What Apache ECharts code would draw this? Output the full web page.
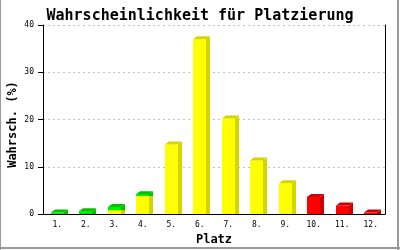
<!DOCTYPE html>
<html>
<head>
<meta charset="utf-8">
<script src="https://cdn.jsdelivr.net/npm/echarts@6/dist/echarts.min.js"></script>
<style>html,body{margin:0;padding:0;background:#fff}#c{width:400px;height:250px}</style>
</head>
<body>
<div id="c"></div>
<script>
const categories = ['1.','2.','3.','4.','5.','6.','7.','8.','9.','10.','11.','12.'];
const yellowVals = [0, 0, 0.8, 3.8, 14.7, 37.0, 20.2, 11.3, 6.5, 0, 0, 0];
const greenVals  = [0.3, 0.6, 0.7, 0.4, 0, 0, 0, 0, 0, 0, 0, 0];
const redVals    = [0, 0, 0, 0, 0, 0, 0, 0, 0, 3.6, 1.8, 0.3];
const yTicks = [0, 10, 20, 30, 40];

function stackData(vals, base) {
  return vals.map((v, i) => [i, base[i], base[i] + v]);
}
const base0 = categories.map(() => 0);
const yellowData = stackData(yellowVals, base0);
const base1 = yellowData.map(d => d[2]);
const greenData = stackData(greenVals, base1);
const base2 = greenData.map(d => d[2]);
const redData = stackData(redVals, base2);

function make3D(front, dark) {
  return function (params, api) {
    const i = api.value(0), b = api.value(1), t = api.value(2);
    if (!(t - b > 0)) return;
    const p0 = api.coord([i, b]);
    const p1 = api.coord([i, t]);
    const band = api.size([1, 0])[0];
    const w = Math.round(band * 0.46);
    const dx = 4, dy = 3;
    const x0 = Math.round(p0[0] - w / 2), x1 = x0 + w;
    const yb = p0[1], yt = p1[1];
    return {
      type: 'group',
      children: [
        { type: 'rect', shape: { x: x0, y: yt, width: w, height: yb - yt }, style: { fill: front } },
        { type: 'polygon', shape: { points: [[x1, yt], [x1 + dx, yt - dy], [x1 + dx, yb], [x1, yb]] }, style: { fill: dark } },
        { type: 'polygon', shape: { points: [[x0, yt], [x0 + dx, yt - dy], [x1 + dx, yt - dy], [x1, yt]] }, style: { fill: dark } }
      ]
    };
  };
}

const chart = echarts.init(document.getElementById('c'), null, { renderer: 'canvas' });
const mono = 'DejaVu Sans Mono';
chart.setOption({
  animation: false,
  backgroundColor: '#fff',
  title: {
    text: 'Wahrscheinlichkeit für Platzierung',
    left: 'center', top: 4,
    textStyle: { fontFamily: mono, fontSize: 15, fontWeight: 'bold', color: '#000' }
  },
  grid: { left: 43, right: 15, top: 25, bottom: 36, containLabel: false, outerBoundsMode: 'none' },
  xAxis: {
    type: 'category', data: categories, boundaryGap: true,
    axisLine: { lineStyle: { color: '#000', width: 1 } },
    axisTick: { show: false },
    axisLabel: { fontFamily: mono, fontSize: 8, color: '#000', margin: 7 },
    name: 'Platz', nameLocation: 'middle', nameGap: 20, nameMoveOverlap: false,
    nameTextStyle: { fontFamily: mono, fontSize: 12, fontWeight: 'bold', color: '#000' }
  },
  yAxis: [{
    type: 'value', min: yTicks[0], max: yTicks[yTicks.length - 1], interval: 10,
    axisLine: { show: true, lineStyle: { color: '#000' } },
    axisTick: { show: true, length: 5, lineStyle: { color: '#000' } },
    axisLabel: { fontFamily: mono, fontSize: 8, color: '#000', margin: 9 },
    splitLine: { show: true, lineStyle: { color: '#c0c0c0', type: [2, 3] } },
    name: 'Wahrsch. (%)', nameLocation: 'middle', nameGap: 24, nameMoveOverlap: false,
    nameTextStyle: { fontFamily: mono, fontSize: 12, fontWeight: 'bold', color: '#000', padding: [0, 10, 0, 0] }
  }, {
    type: 'value', position: 'right', min: 0, max: 40, interval: 10,
    axisLine: { show: true, lineStyle: { color: '#000' } },
    axisTick: { show: false }, axisLabel: { show: false }, splitLine: { show: false }
  }],
  series: [
    { type: 'custom', renderItem: make3D('#ffff00', '#d4d400'), data: yellowData, encode: { x: 0, y: [1, 2] } },
    { type: 'custom', renderItem: make3D('#00ee00', '#00c000'), data: greenData, encode: { x: 0, y: [1, 2] } },
    { type: 'custom', renderItem: make3D('#ff0000', '#cc0000'), data: redData, encode: { x: 0, y: [1, 2] } }
  ],
  graphic: [
    { type: 'line', shape: { x1: 0.5, y1: 0, x2: 0.5, y2: 250 }, style: { stroke: '#999', lineWidth: 1 } },
    { type: 'line', shape: { x1: 398, y1: 0, x2: 398, y2: 250 }, style: { stroke: '#999', lineWidth: 2 } },
    { type: 'line', shape: { x1: 0, y1: 248, x2: 400, y2: 248 }, style: { stroke: '#999', lineWidth: 2 } }
  ]
});
</script>
</body>
</html>
